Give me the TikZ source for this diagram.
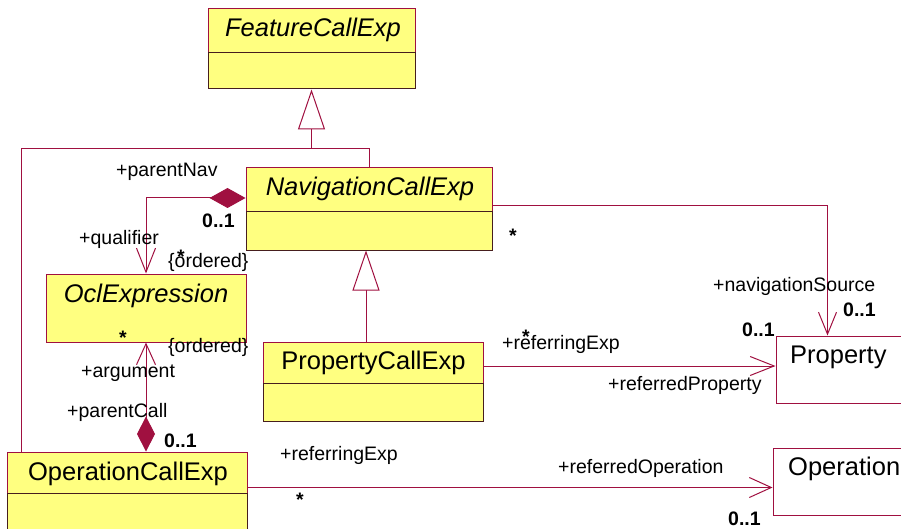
\documentclass[tikz,border=0pt]{standalone}
\usepackage{fontspec}
\setmainfont{Liberation Sans}
\usetikzlibrary{arrows.meta,calc}
\definecolor{umly}{RGB}{255,255,128}
\definecolor{umlr}{RGB}{160,16,64}
\definecolor{umld}{RGB}{70,30,30}
\begin{document}
\begin{tikzpicture}[x=1pt,y=-1pt,
  clstop/.style={draw=umlr, fill=umly, line width=1pt, inner sep=0pt},
  clsbot/.style={draw=umld, fill=umly, line width=1pt, inner sep=0pt},
  clsplain/.style={draw=umlr, fill=white, line width=1pt, inner sep=0pt},
  cname/.style={font=\fontsize{25.5}{30}\selectfont, anchor=base, inner sep=0pt},
  ciname/.style={font=\fontsize{25.5}{30}\selectfont\itshape, anchor=base, inner sep=0pt},
  albl/.style={font=\fontsize{19.5}{23}\selectfont, anchor=base west, inner sep=0pt},
  amult/.style={font=\fontsize{19.5}{23}\selectfont\bfseries, anchor=base west, inner sep=0pt},
  conn/.style={draw=umlr, line width=1pt},
  gen/.style={conn, -{Triangle[open, length=40pt, width=27pt, fill=white]}}
]
\useasboundingbox (0,0) rectangle (901,529);
\clip (0,0) rectangle (901,529);

% classes
\node[clstop, minimum width=207pt, minimum height=44pt] (fceT) at (311.5,31) {};
\node[clsbot, minimum width=207pt, minimum height=36pt] (fceB) at (311.5,71) {};
\node[ciname] (fceN) at (313,37) {FeatureCallExp};

\node[clstop, minimum width=246pt, minimum height=44pt] (nceT) at (369,190) {};
\node[clsbot, minimum width=246pt, minimum height=38pt] (nceB) at (369,231) {};
\node[ciname] (nceN) at (370,196) {NavigationCallExp};

\node[clstop, minimum width=200pt, minimum height=68pt] (ocl) at (146,308) {};
\node[ciname] (oclN) at (146,302) {OclExpression};

\node[clstop, minimum width=220pt, minimum height=41pt] (pceT) at (373,362.5) {};
\node[clsbot, minimum width=220pt, minimum height=38pt] (pceB) at (373,402) {};
\node[cname] (pceN) at (373.5,369) {PropertyCallExp};

\node[clstop, minimum width=240pt, minimum height=41pt] (opceT) at (127,472.5) {};
\node[clsbot, minimum width=240pt, minimum height=67pt] (opceB) at (127,526.5) {};
\node[cname] (opceN) at (128,480) {OperationCallExp};

\node[clsplain, minimum width=174pt, minimum height=67pt] (prop) at (863,369.5) {};
\node[cname, anchor=base west] (propN) at (790,363) {Property};
\node[clsplain, minimum width=177pt, minimum height=67pt] (opn) at (861.5,481.5) {};
\node[cname, anchor=base west] (opnN) at (788,475) {Operation};

% generalizations
\coordinate (j) at ($(fceB.south)+(0,59)$);
\draw[conn] (nceT.north) |- (j);
\draw[conn] ($(opceT.north west)+(15,0)$) |- (j);
\draw[gen] (j) -- (fceB.south);
\coordinate (nt) at ($(nceB.south)+(-3,0)$);
\draw[gen] (nt |- pceT.north) -- (nt);

% compositions
\draw[conn, {Diamond[length=36pt,width=20pt]}-{Straight Barb[length=24pt,width=19pt]}] ($(nceT.west)+(0,8)$) -| (ocl.north);
\draw[conn, {Diamond[length=35pt,width=18pt]}-{Straight Barb[length=21pt,width=19pt]}] (ocl.south |- opceT.north) -- (ocl.south);

% associations
\coordinate (ns) at ($(nceT.east)+(0,16)$);
\draw[conn, -{Straight Barb[length=22pt,width=18pt]}] (ns) -| ($(prop.north west)+(52,0)$);
\coordinate (pr) at ($(pceT.east)+(0,3.5)$);
\draw[conn, -{Straight Barb[length=24pt,width=19pt]}] (pr) -- (pr -| prop.west);
\coordinate (orr) at ($(opceT.east)+(0,15)$);
\draw[conn, -{Straight Barb[length=22pt,width=20pt]}] (orr) -- (orr -| opn.west);

% labels
\node[albl] (l1) at (116,177) {+parentNav};
\node[amult] (m1) at (202,228) {0..1};
\node[albl] (l2) at (79,244) {+qualifier};
\node[amult, anchor=base] (s1) at (181,263) {*};
\node[albl] (o1) at (168,267) {\{ordered\}};
\node[amult, anchor=base] (s2) at (123,344) {*};
\node[albl] (o2) at (168,352) {\{ordered\}};
\node[albl] (l3) at (81,377) {+argument};
\node[albl] (l4) at (67,417) {+parentCall};
\node[amult] (m2) at (164,447) {0..1};
\node[albl] (l5) at (280,460) {+referringExp};
\node[amult, anchor=base] (s3) at (300,506) {*};
\node[amult, anchor=base] (s4) at (513,243) {*};
\node[albl] (l6) at (713,291) {+navigationSource};
\node[amult] (m3) at (843,316) {0..1};
\node[amult] (m4) at (742,336) {0..1};
\node[albl] (l7) at (502,349) {+referringExp};
\node[amult, anchor=base] (s5) at (526,343) {*};
\node[albl] (l8) at (608,390) {+referredProperty};
\node[albl] (l9) at (558,473) {+referredOperation};
\node[amult] (m5) at (728,525) {0..1};
\end{tikzpicture}
\end{document}
